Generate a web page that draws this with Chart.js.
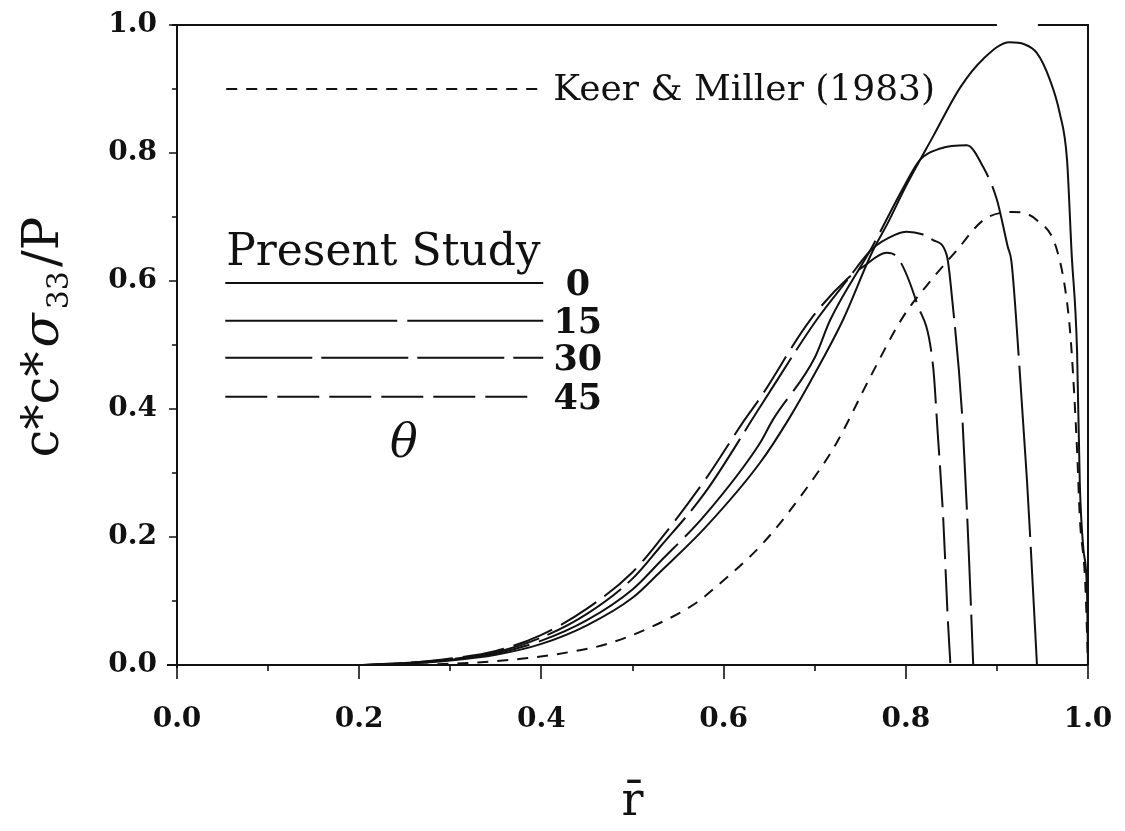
<!DOCTYPE html>
<html>
<head>
<meta charset="utf-8">
<script src="https://cdn.jsdelivr.net/npm/chart.js@4.4.0/dist/chart.umd.min.js"></script>
<style>
  html, body { margin: 0; padding: 0; background: #fff; }
  #wrap { width: 1125px; height: 831px; }
</style>
</head>
<body>
<div id="wrap"><canvas id="chart"></canvas></div>
<script>
// Keer & Miller (1983)
const keerR = [0.22, 0.28, 0.33, 0.38, 0.43, 0.47, 0.52, 0.571, 0.585, 0.643, 0.695, 0.724, 0.761, 0.797, 0.83, 0.856, 0.885, 0.917, 0.944, 0.966, 0.978, 0.982, 0.988, 0.991, 0.997, 1.0];
const keerS = [0, 0.001, 0.004, 0.01, 0.02, 0.032, 0.059, 0.098, 0.114, 0.19, 0.284, 0.347, 0.45, 0.544, 0.605, 0.648, 0.695, 0.708, 0.695, 0.648, 0.555, 0.49, 0.336, 0.231, 0.128, 0];

// present study, theta = 0, 15, 30, 45
const th0R = [0.2, 0.25, 0.3, 0.35, 0.4, 0.45, 0.5, 0.53, 0.58, 0.64, 0.671, 0.7, 0.731, 0.763, 0.78, 0.8, 0.83, 0.86, 0.885, 0.914, 0.93, 0.944, 0.958, 0.969, 0.977, 0.982, 0.988, 0.991, 0.995, 0.999, 1.0];
const th0S = [0, 0.002, 0.007, 0.016, 0.033, 0.062, 0.105, 0.145, 0.215, 0.316, 0.383, 0.455, 0.539, 0.645, 0.69, 0.748, 0.826, 0.903, 0.947, 0.973, 0.97, 0.956, 0.915, 0.862, 0.789, 0.644, 0.49, 0.284, 0.18, 0.11, 0];

const th15R = [0.2, 0.25, 0.3, 0.35, 0.4, 0.45, 0.5, 0.53, 0.58, 0.64, 0.654, 0.7, 0.717, 0.763, 0.797, 0.816, 0.838, 0.867, 0.885, 0.9, 0.912, 0.916, 0.925, 0.933, 0.944];
const th15S = [0, 0.002, 0.008, 0.018, 0.038, 0.07, 0.118, 0.161, 0.235, 0.347, 0.383, 0.48, 0.539, 0.653, 0.745, 0.79, 0.807, 0.812, 0.778, 0.727, 0.653, 0.63, 0.46, 0.289, 0];

const th30R = [0.2, 0.25, 0.3, 0.35, 0.4, 0.45, 0.5, 0.53, 0.58, 0.64, 0.702, 0.735, 0.763, 0.788, 0.801, 0.818, 0.83, 0.845, 0.851, 0.862, 0.869, 0.874];
const th30S = [0, 0.003, 0.009, 0.02, 0.043, 0.08, 0.135, 0.184, 0.27, 0.403, 0.539, 0.6, 0.65, 0.672, 0.677, 0.673, 0.664, 0.640, 0.57, 0.387, 0.18, 0];

const th45R = [0.2, 0.25, 0.3, 0.35, 0.4, 0.45, 0.5, 0.53, 0.58, 0.623, 0.64, 0.695, 0.737, 0.753, 0.779, 0.79, 0.812, 0.83, 0.835, 0.841, 0.846, 0.849];
const th45S = [0, 0.003, 0.01, 0.022, 0.047, 0.088, 0.145, 0.195, 0.29, 0.383, 0.417, 0.539, 0.605, 0.622, 0.644, 0.638, 0.566, 0.466, 0.363, 0.231, 0.075, 0];

// axis ticks
const xTicks = [0, 0.2, 0.4, 0.6, 0.8, 1.0];
const yTicks = [0, 0.2, 0.4, 0.6, 0.8, 1.0];
const thetaLabels = ['0', '15', '30', '45'];

const serif = '"DejaVu Serif", "Liberation Serif", serif';
const ink = '#111';

// dash patterns, same order as thetaLabels
const thetaDash = [[], [172, 10], [87, 9], [42, 10]];
const keerDash = [11, 9];

function pts(xs, ys) {
  return xs.map((v, i) => ({ x: v, y: ys[i] }));
}

function curve(label, xs, ys, dash) {
  return {
    label: label,
    data: pts(xs, ys),
    borderColor: ink,
    borderWidth: 2,
    borderDash: dash,
    pointRadius: 0,
    fill: false,
    cubicInterpolationMode: 'monotone'
  };
}

// frame, ticks, in-plot key and the y title
const paperPlugin = {
  id: 'paper',
  afterDraw(chart) {
    const { ctx, chartArea: a, scales: { x, y } } = chart;
    ctx.save();
    ctx.strokeStyle = ink;
    ctx.fillStyle = ink;
    ctx.lineWidth = 2;
    ctx.setLineDash([]);

    // frame; top edge has a break like the scan
    ctx.beginPath();
    ctx.moveTo(a.left - 10, a.bottom); ctx.lineTo(a.right, a.bottom);
    ctx.moveTo(a.left, a.bottom + 3); ctx.lineTo(a.left, a.top);
    ctx.moveTo(a.left - 5, a.top); ctx.lineTo(x.getPixelForValue(0.9), a.top);
    ctx.moveTo(x.getPixelForValue(0.945), a.top); ctx.lineTo(a.right, a.top);
    ctx.lineTo(a.right, a.bottom);
    ctx.stroke();

    // ticks: major every 0.2, minor every 0.1
    ctx.lineWidth = 1.6;
    ctx.beginPath();
    for (let i = 0; i <= 10; i++) {
      const v = i / 10;
      const major = i % 2 === 0;
      const px = Math.round(x.getPixelForValue(v));
      ctx.moveTo(px, a.bottom);
      ctx.lineTo(px, a.bottom + (major ? 14 : 6));
      const py = Math.round(y.getPixelForValue(v));
      ctx.moveTo(a.left, py);
      ctx.lineTo(a.left - (major ? 8 : 5), py);
    }
    ctx.stroke();

    // key: Keer & Miller
    ctx.lineWidth = 2;
    const ky = y.getPixelForValue(0.9);
    ctx.setLineDash(keerDash);
    ctx.beginPath();
    ctx.moveTo(x.getPixelForValue(0.054), ky);
    ctx.lineTo(x.getPixelForValue(0.397), ky);
    ctx.stroke();
    ctx.setLineDash([]);
    ctx.font = '36px ' + serif;
    ctx.textAlign = 'left';
    ctx.textBaseline = 'middle';
    ctx.fillText('Keer & Miller (1983)', x.getPixelForValue(0.413), ky + 2);

    // key: present study
    ctx.textBaseline = 'alphabetic';
    ctx.font = '44px ' + serif;
    ctx.fillText('Present Study', x.getPixelForValue(0.054), y.getPixelForValue(0.625));

    const rowY = [0.597, 0.538, 0.48, 0.419];
    const rowEnd = [0.402, 0.402, 0.402, 0.393];
    ctx.font = 'bold 35px ' + serif;
    ctx.textAlign = 'center';
    ctx.textBaseline = 'middle';
    thetaLabels.forEach((t, i) => {
      const py = y.getPixelForValue(rowY[i]);
      ctx.setLineDash(thetaDash[i]);
      ctx.beginPath();
      ctx.moveTo(x.getPixelForValue(0.053), py);
      ctx.lineTo(x.getPixelForValue(rowEnd[i]), py);
      ctx.stroke();
      ctx.setLineDash([]);
      ctx.fillText(t, x.getPixelForValue(0.44), py + 3);
    });
    ctx.font = 'italic 46px ' + serif;
    ctx.fillText('\u03B8', x.getPixelForValue(0.249), y.getPixelForValue(0.343));

    // y axis title c*c*sigma_33/P, rotated
    ctx.translate(58, (a.top + a.bottom) / 2 - 10);
    ctx.rotate(-Math.PI / 2);
    ctx.textAlign = 'left';
    ctx.textBaseline = 'alphabetic';
    const big = '50px ' + serif;
    const small = '30px ' + serif;
    const parts = [
      { t: 'c*c*', f: big, dy: 0 },
      { t: '\u03C3', f: 'italic ' + big, dy: 0 },
      { t: '33', f: small, dy: 10 },
      { t: '/P', f: big, dy: 0 }
    ];
    let total = 0;
    parts.forEach(p => { ctx.font = p.f; p.w = ctx.measureText(p.t).width + 4; total += p.w; });
    let cx = -total / 2;
    parts.forEach(p => { ctx.font = p.f; ctx.fillText(p.t, cx, p.dy); cx += p.w; });
    ctx.restore();
  }
};

const ctx = document.getElementById('chart').getContext('2d');
new Chart(ctx, {
  type: 'line',
  data: {
    datasets: [
      curve('Keer & Miller (1983)', keerR, keerS, keerDash),
      curve('0', th0R, th0S, thetaDash[0]),
      curve('15', th15R, th15S, thetaDash[1]),
      curve('30', th30R, th30S, thetaDash[2]),
      curve('45', th45R, th45S, thetaDash[3])
    ]
  },
  options: {
    responsive: true,
    maintainAspectRatio: false,
    animation: false,
    devicePixelRatio: 1,
    layout: { padding: { top: 25, right: 37, left: 0, bottom: 0 } },
    plugins: {
      legend: { display: false },
      tooltip: { enabled: false }
    },
    scales: {
      x: {
        type: 'linear',
        min: 0,
        max: 1,
        afterBuildTicks: s => { s.ticks = xTicks.map(v => ({ value: v })); },
        afterFit: s => { s.height = 166; s.paddingLeft = 0; s.paddingRight = 0; },
        grid: { display: false, drawTicks: false },
        border: { display: false },
        ticks: {
          padding: 38,
          color: ink,
          maxRotation: 0,
          font: { family: serif, size: 28, weight: 'bold' },
          callback: v => Number(v).toFixed(1)
        },
        title: {
          display: true,
          text: 'r\u0304',
          color: ink,
          padding: 0,
          font: { family: serif, size: 46 }
        }
      },
      y: {
        type: 'linear',
        min: 0,
        max: 1,
        afterBuildTicks: s => { s.ticks = yTicks.map(v => ({ value: v })); },
        afterFit: s => { s.width = 177; s.paddingTop = 0; s.paddingBottom = 0; },
        grid: { display: false, drawTicks: false },
        border: { display: false },
        ticks: {
          padding: 20,
          color: ink,
          font: { family: serif, size: 28, weight: 'bold' },
          callback: v => Number(v).toFixed(1)
        }
      }
    }
  },
  plugins: [paperPlugin]
});
</script>
</body>
</html>
